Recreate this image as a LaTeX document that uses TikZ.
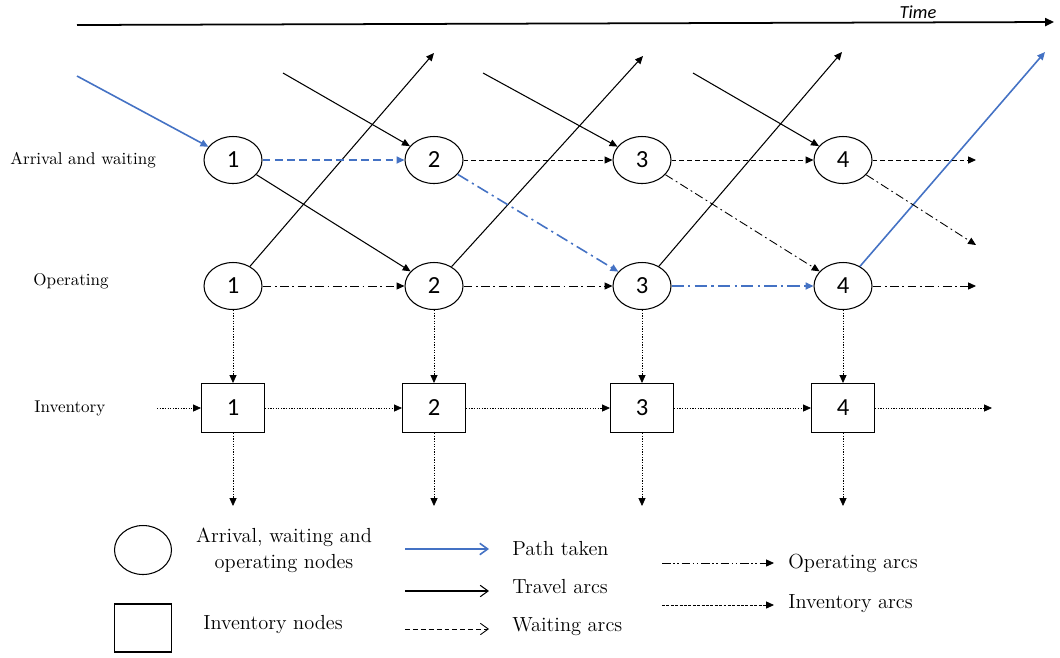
\documentclass[tikz,border=0pt]{standalone}
\usepackage{fontspec}
\newfontfamily\numfont{Carlito}
\usetikzlibrary{arrows.meta,shapes.geometric}
\definecolor{pathblue}{RGB}{68,114,196}

\begin{document}
\begin{tikzpicture}[x=0.02cm,y=-0.02cm,
    every node/.style={inner sep=0pt},
    anode/.style={draw,ellipse,line width=0.6pt,minimum width=1.16cm,minimum height=0.94cm,font=\numfont\fontsize{14}{16}\selectfont},
    inode/.style={draw,rectangle,line width=0.6pt,minimum width=1.26cm,minimum height=0.98cm,font=\numfont\fontsize{14}{16}\selectfont},
    travel/.style={-{Triangle[length=4.5pt,width=4pt]},line width=0.6pt},
    taken/.style={pathblue,line width=0.9pt},
    waiting/.style={travel,line width=0.5pt,dash pattern=on 2.8pt off 1.7pt},
    operating/.style={travel,line width=0.5pt,dash pattern=on 5pt off 2pt on 1pt off 2pt},
    invarc/.style={travel,line width=0.45pt,dash pattern=on 0.7pt off 0.8pt},
    legarrow/.style={-{Straight Barb[length=4.5pt,width=6.5pt]},line width=0.6pt},
    lbl/.style={anchor=west,font=\fontsize{9.7}{11}\selectfont},
    legtext/.style={font=\fontsize{11.6}{14.8}\selectfont,align=center}]
\useasboundingbox (0,0) rectangle (1060,657);

\coordinate (t0) at (77,25);
\coordinate (t1) at (1054,22);
\draw [-{Triangle[length=5pt,width=4.5pt]},line width=1pt] (t0) -- (t1);
\node [font=\numfont\itshape\fontsize{10.5}{12}\selectfont] (time) at (918,12) {Time};

\node [lbl] (lab1) at (10,160) {Arrival and waiting};
\node [lbl] (lab2) at (33,281) {Operating};
\node [lbl] (lab3) at (34,408) {Inventory};

\foreach \t/\x in {1/233,2/434,3/642,4/843}{
    \node [anode] (a\t) at (\x,160) {\t};
    \node [anode] (o\t) at (\x,286) {\t};
    \node [inode] (i\t) at (\x,408) {\t};
    \coordinate (d\t) at (\x,506);
}

\coordinate (s1) at (77,76);
\coordinate (s2) at (283,73);
\coordinate (s3) at (483,73);
\coordinate (s4) at (693,73);
\coordinate (u1) at (434,53);
\coordinate (u2) at (643,56);
\coordinate (u3) at (842,52);
\coordinate (u4) at (1045,52);
\coordinate (w5) at (976,160);
\coordinate (x5) at (976,245);
\coordinate (o5) at (976,286);
\coordinate (i0) at (157,408);
\coordinate (i5) at (992,408);

\draw [travel,taken] (s1) -- (a1);
\draw [travel] (s2) -- (a2);
\draw [travel] (s3) -- (a3);
\draw [travel] (s4) -- (a4);
\draw [travel] (a1) -- (o2);
\draw [travel] (o1) -- (u1);
\draw [travel] (o2) -- (u2);
\draw [travel] (o3) -- (u3);
\draw [travel,taken] (o4) -- (u4);

\draw [waiting,taken,dash pattern=on 4.5pt off 2.5pt] (a1) -- (a2);
\draw [waiting] (a2) -- (a3);
\draw [waiting] (a3) -- (a4);
\draw [waiting] (a4) -- (w5);

\draw [operating] (o1) -- (o2);
\draw [operating] (o2) -- (o3);
\draw [operating,taken,dash pattern=on 7pt off 2.5pt on 1.2pt off 2.5pt] (o3) -- (o4);
\draw [operating] (o4) -- (o5);
\draw [operating,taken,dash pattern=on 7pt off 2.5pt on 1.2pt off 2.5pt] (a2) -- (o3);
\draw [operating] (a3) -- (o4);
\draw [operating] (a4) -- (x5);

\foreach \t in {1,2,3,4}{
    \draw [invarc] (o\t) -- (i\t);
    \draw [invarc] (i\t) -- (d\t);
}
\draw [invarc] (i0) -- (i1);
\draw [invarc] (i1) -- (i2);
\draw [invarc] (i2) -- (i3);
\draw [invarc] (i3) -- (i4);
\draw [invarc] (i4) -- (i5);

\node [anode,minimum width=1.14cm,minimum height=0.98cm] (lega) at (143,550) {};
\node [inode,minimum width=1.14cm,minimum height=0.96cm] (legi) at (143,628) {};
\node [legtext] (legat) at (284,550) {Arrival, waiting and\\operating nodes};
\node [legtext] (legit) at (273,624) {Inventory nodes};

\coordinate (p0) at (405,549);
\coordinate (p1) at (489,549);
\coordinate (r0) at (405,591);
\coordinate (r1) at (489,591);
\coordinate (q0) at (405,629);
\coordinate (q1) at (489,629);
\draw [legarrow,taken] (p0) -- (p1);
\draw [legarrow] (r0) -- (r1);
\draw [legarrow,line width=0.5pt,dash pattern=on 2.8pt off 1.7pt] (q0) -- (q1);
\node [legtext,anchor=west] (legp) at (512,549) {Path taken};
\node [legtext,anchor=west] (legr) at (512,587) {Travel arcs};
\node [legtext,anchor=west] (legq) at (512,627) {Waiting arcs};

\coordinate (m0) at (662,563);
\coordinate (m1) at (774,563);
\coordinate (n0) at (662,605);
\coordinate (n1) at (774,605);
\draw [travel,line width=0.5pt,dash pattern=on 5pt off 1.5pt on 0.8pt off 1.5pt on 0.8pt off 1.5pt] (m0) -- (m1);
\draw [travel,line width=0.5pt,dash pattern=on 1.7pt off 0.8pt] (n0) -- (n1);
\node [legtext,anchor=west] (legm) at (788,563) {Operating arcs};
\node [legtext,anchor=west] (legn) at (788,604) {Inventory arcs};
\end{tikzpicture}
\end{document}
